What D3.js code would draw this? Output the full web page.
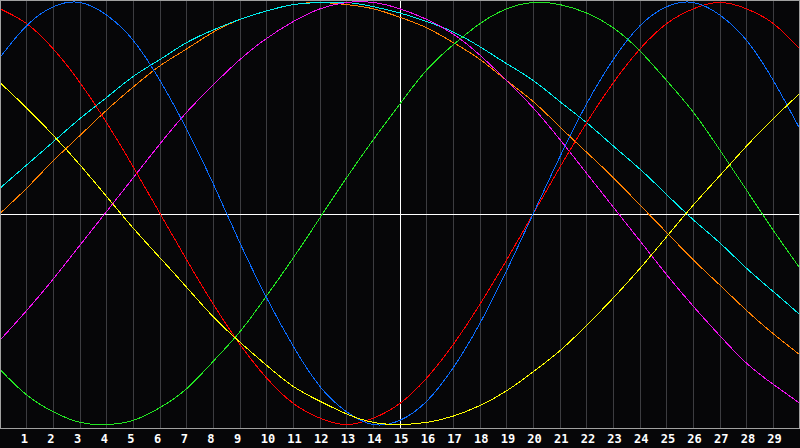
<!DOCTYPE html>
<html>
<head>
<meta charset="utf-8">
<script src="https://cdn.jsdelivr.net/npm/d3@7"></script>
<style>
    html, body { margin: 0; padding: 0; background: #060608; }
    svg { display: block; }
</style>
</head>
<body>
<svg id="chart"></svg>
<script>

// days shown on the chart (0 .. 30), labels only for 1 .. 29
var days = d3.range(0, 31);
var dayLabels = d3.range(1, 30);
var today = 15;

// cycle values in percent, one per day
var physical     = [74, 89, 98, 100, 94, 82, 63, 40, 14, -14, -40, -63, -82, -94, -100, -98, -89, -73, -52, -27, 0, 27, 52, 73, 89, 98, 100, 94, 82, 63, 40];
var emotional    = [97, 90, 78, 62, 43, 22, 0, -22, -43, -62, -78, -90, -97, -100, -97, -90, -78, -62, -43, -22, 0, 22, 43, 62, 78, 90, 97, 100, 97, 90, 78];
var intellectual = [-74, -86, -94, -99, -100, -98, -92, -83, -70, -56, -39, -21, -2, 17, 35, 52, 68, 80, 90, 97, 100, 99, 95, 88, 77, 63, 48, 30, 11, -8, -26];
var intuitive    = [-60, -46, -31, -15, 1, 17, 33, 48, 61, 73, 83, 91, 97, 100, 100, 97, 92, 85, 75, 63, 50, 35, 19, 3, -13, -29, -44, -58, -71, -81, -90];
var aesthetic    = [62, 50, 37, 23, 8, -7, -21, -35, -49, -61, -72, -82, -89, -95, -99, -100, -99, -96, -91, -84, -75, -65, -53, -40, -26, -11, 4, 18, 32, 45, 57];
var awareness    = [0, 12, 25, 37, 49, 60, 70, 78, 86, 92, 96, 99, 100, 99, 97, 93, 88, 81, 73, 63, 53, 41, 29, 17, 4, -9, -22, -34, -46, -57, -67];
var spiritual    = [12, 23, 34, 45, 55, 65, 73, 81, 87, 92, 96, 99, 100, 100, 98, 95, 91, 86, 79, 71, 63, 53, 43, 32, 21, 9, -3, -14, -26, -37, -48];

var series = [
    {name: "awareness", values: awareness, color: "#ff8000"},
    {name: "spiritual", values: spiritual, color: "#00f0f0"},
    {name: "intuitive", values: intuitive, color: "#f010f0"},
    {name: "intellectual", values: intellectual, color: "#22e622"},
    {name: "emotional", values: emotional, color: "#ff0000"},
    {name: "physical", values: physical, color: "#0a6cff"},
    {name: "aesthetic", values: aesthetic, color: "#ffff00"}
];

var width = 800, height = 448;
var plotBottom = 428;

var svg = d3.select("#chart")
    .attr("width", width)
    .attr("height", height);

var x = d3.scaleLinear().domain([0, 30]).range([0, 800]);
var y = d3.scaleLinear().domain([-100, 100]).range([424.5, 2.5]);

function px(v) {
    return Math.floor(v) + 0.5;
}

// background
svg.append("rect")
    .attr("x", 0).attr("y", 0)
    .attr("width", width).attr("height", height)
    .style("fill", "#060608");

// day grid lines
svg.selectAll(".grid").data(dayLabels).enter().append("line")
    .classed("grid", true)
    .attr("x1", function (d) { return px(x(d)); })
    .attr("x2", function (d) { return px(x(d)); })
    .attr("y1", 0)
    .attr("y2", plotBottom)
    .style("stroke", function (d) { return d == today ? "#ffffff" : "#3c3c40"; })
    .style("stroke-width", 1)
    .style("shape-rendering", "crispEdges");

// zero line
svg.append("line")
    .attr("x1", 0).attr("x2", width)
    .attr("y1", Math.round(y(0)) + 0.5)
    .attr("y2", Math.round(y(0)) + 0.5)
    .style("stroke", "#ffffff")
    .style("stroke-width", 1)
    .style("shape-rendering", "crispEdges");

// cycles, drawn aliased like the original
var line = d3.line()
    .x(function (d, i) { return x(days[i]); })
    .y(function (d) { return y(d); })
    .curve(d3.curveNatural);

svg.selectAll(".cycle").data(series).enter().append("path")
    .classed("cycle", true)
    .attr("d", function (d) { return line(d.values); })
    .style("fill", "none")
    .style("stroke", function (d) { return d.color; })
    .style("stroke-width", 1)
    .style("shape-rendering", "crispEdges");

// frame
svg.append("rect")
    .attr("x", 0.5).attr("y", 0.5)
    .attr("width", width - 1).attr("height", plotBottom)
    .style("fill", "none")
    .style("stroke", "#a0a0a0")
    .style("stroke-width", 1)
    .style("shape-rendering", "crispEdges");

// day labels
svg.selectAll(".dayTxt").data(dayLabels).enter().append("text")
    .classed("dayTxt", true)
    .attr("x", function (d) { return x(d) - 6; })
    .attr("y", 443)
    .text(function (d) { return d; })
    .style("fill", "#ffffff")
    .style("font", "bold 12px 'DejaVu Sans Mono', monospace")
    .style("text-anchor", "start");

</script>
</body>
</html>
